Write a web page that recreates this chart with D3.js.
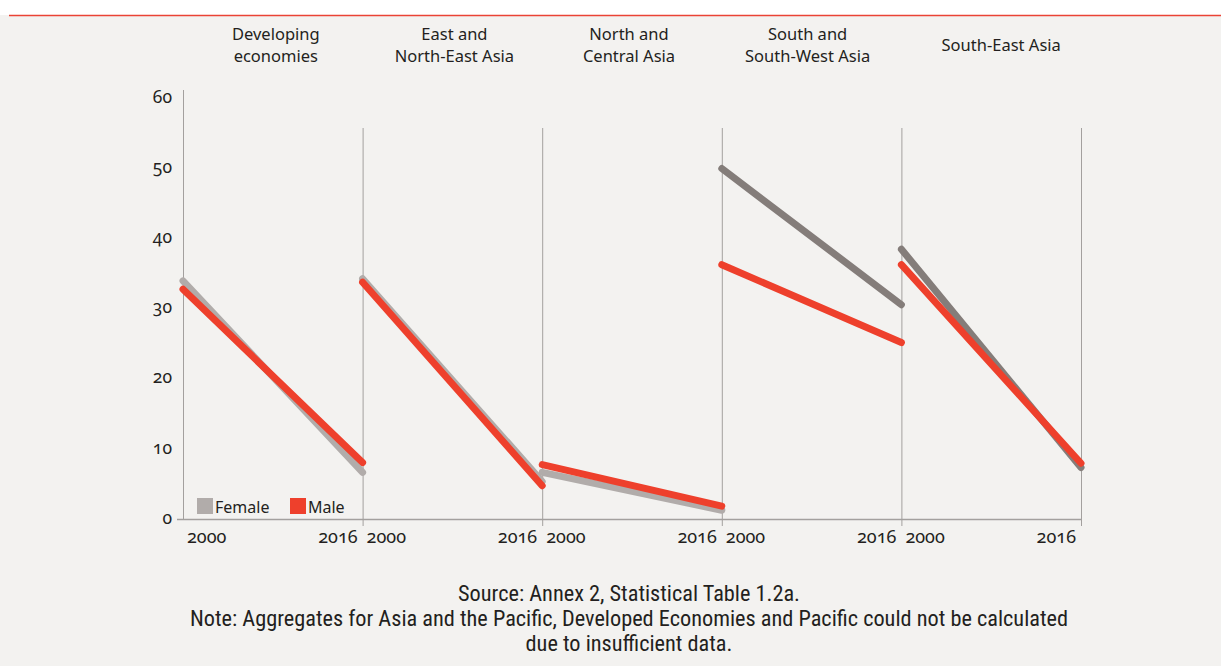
<!DOCTYPE html>
<html>
<head>
<meta charset="utf-8">
<script src="https://cdn.jsdelivr.net/npm/d3@7"></script>
<style>
  html, body { margin: 0; padding: 0; background: #ffffff; }
  svg { display: block; }
  .lbl { font-family: "Noto Sans", "Open Sans", sans-serif; fill: #231f20; font-variant-numeric: oldstyle-nums; }
  .src { font-family: "Liberation Sans Narrow", "Roboto Condensed", "Noto Sans", sans-serif; fill: #231f20; }
</style>
</head>
<body>
<svg id="chart" width="1221" height="666"></svg>
<script>
// ---- data ----
const regions = ["Developing economies", "East and North-East Asia", "North and Central Asia", "South and South-West Asia", "South-East Asia"];
const regionTitles = [["Developing", "economies"], ["East and", "North-East Asia"], ["North and", "Central Asia"], ["South and", "South-West Asia"], ["South-East Asia"]];
const years = [2000, 2016];
const female2000 = [33.8, 34.1, 6.5, 49.8, 38.3];
const female2016 = [6.5, 5.2, 1.1, 30.4, 7.2];
const male2000 = [32.6, 33.6, 7.6, 36.1, 36.1];
const male2016 = [7.9, 4.6, 1.7, 25.0, 7.8];
const yTicks = [0, 10, 20, 30, 40, 50, 60];
const legendItems = ["Female", "Male"];
const sourceLines = [
  "Source: Annex 2, Statistical Table 1.2a.",
  "Note: Aggregates for Asia and the Pacific, Developed Economies and Pacific could not be calculated",
  "due to insufficient data."
];

// ---- styles ----
const femaleLight = "#b1acaa", femaleDark = "#847d7a", maleColor = "#ee402c";
const femaleShade = [femaleLight, femaleLight, femaleLight, femaleDark, femaleDark];
const titleNudge = [3, 2, -3, -4, 10];
const axisColor = "#a3a09e";

const svg = d3.select("#chart");
svg.append("rect").attr("x", 0).attr("y", 15).attr("width", 1221).attr("height", 651).attr("fill", "#f3f2f0");
svg.append("line").attr("x1", 9).attr("x2", 1221).attr("y1", 15.5).attr("y2", 15.5).attr("stroke", "#ea4335").attr("stroke-width", 1.3);

const plotLeft = 183, plotRight = 1081, plotTop = 97, plotBottom = 518;
const y = d3.scaleLinear().domain([0, 60]).range([plotBottom, plotTop]);
const xBand = d3.scaleBand().domain(regions).range([plotLeft, plotRight]).padding(0);
const xYear = d3.scaleLinear().domain(years).range([0, xBand.bandwidth()]);

// y axis
const yAxis = svg.append("g").attr("transform", `translate(${plotLeft},0)`)
  .call(d3.axisLeft(y).tickValues(yTicks).tickSize(0).tickPadding(11).tickFormat(d3.format("d")));
yAxis.select(".domain").remove();
yAxis.selectAll("text").attr("class", "lbl").attr("font-size", 17.5).attr("dy", "0.3em");
svg.append("line").attr("x1", plotLeft + 0.5).attr("x2", plotLeft + 0.5).attr("y1", 90).attr("y2", plotBottom + 2)
  .attr("stroke", axisColor).attr("stroke-width", 1);

// baseline
svg.append("line").attr("x1", plotLeft - 6).attr("x2", plotRight).attr("y1", plotBottom + 1.5).attr("y2", plotBottom + 1.5)
  .attr("stroke", axisColor).attr("stroke-width", 1.5);

// panel separators
regions.forEach((r) => {
  const xr = xBand(r) + xBand.bandwidth();
  svg.append("line").attr("x1", xr + 0.5).attr("x2", xr + 0.5).attr("y1", 128).attr("y2", plotBottom + 8)
    .attr("stroke", axisColor).attr("stroke-width", 1);
});

// titles
regions.forEach((r, i) => {
  const cx = xBand(r) + xBand.bandwidth() / 2 + titleNudge[i];
  const lines = regionTitles[i];
  const t = svg.append("text").attr("class", "lbl").attr("font-size", 16.5).attr("text-anchor", "middle")
    .attr("x", cx).attr("y", lines.length === 1 ? 51 : 40);
  lines.forEach((l, k) => t.append("tspan").attr("x", cx).attr("dy", k === 0 ? 0 : 22).text(l));
});

// year labels
regions.forEach((r) => {
  const x0 = xBand(r);
  svg.append("text").attr("class", "lbl").attr("font-size", 18).attr("x", x0 + xYear(2000) + 4).attr("y", 543).text(String(years[0]));
  svg.append("text").attr("class", "lbl").attr("font-size", 18).attr("text-anchor", "end").attr("x", x0 + xYear(2016) - 5).attr("y", 543).text(String(years[1]));
});

// lines
const line = d3.line().x(d => d.x).y(d => y(d.v));
regions.forEach((r, i) => {
  const x0 = xBand(r);
  const fpts = [{x: x0 + xYear(2000), v: female2000[i]}, {x: x0 + xYear(2016), v: female2016[i]}];
  const mpts = [{x: x0 + xYear(2000), v: male2000[i]}, {x: x0 + xYear(2016), v: male2016[i]}];
  svg.append("path").attr("d", line(fpts)).attr("fill", "none").attr("stroke", femaleShade[i])
    .attr("stroke-width", 7).attr("stroke-linecap", "round");
  svg.append("path").attr("d", line(mpts)).attr("fill", "none").attr("stroke", maleColor)
    .attr("stroke-width", 7).attr("stroke-linecap", "round");
});

// legend
const legendColors = [femaleLight, maleColor];
const legendX = [197, 290];
legendItems.forEach((name, k) => {
  svg.append("rect").attr("x", legendX[k]).attr("y", 498).attr("width", 16).attr("height", 16).attr("fill", legendColors[k]);
  svg.append("text").attr("class", "lbl").attr("font-size", 16).attr("x", legendX[k] + 18).attr("y", 513).text(name);
});

// source
sourceLines.forEach((s, k) => {
  svg.append("text").attr("class", "src").attr("font-size", 22.3).attr("text-anchor", "middle")
    .attr("x", 629).attr("y", 601 + k * 25).text(s);
});
</script>
</body>
</html>
